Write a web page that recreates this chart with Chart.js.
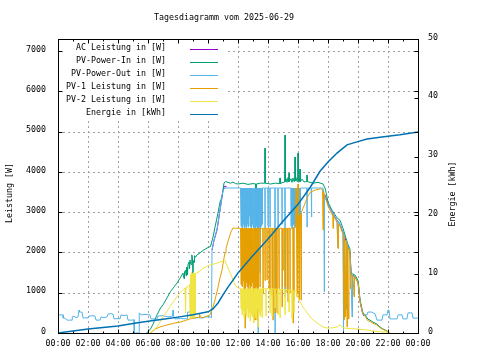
<!DOCTYPE html>
<html><head><meta charset="utf-8">
<script src="https://cdn.jsdelivr.net/npm/chart.js@4.4.1/dist/chart.umd.min.js"></script>
<style>html,body{margin:0;padding:0;background:#fff}canvas{display:block}</style>
</head><body>
<canvas id="c" width="480" height="360"></canvas>
<script>
const TITLE_TEXT = "Tagesdiagramm vom 2025-06-29";
const LEFT_AXIS_TITLE = "Leistung [W]";
const RIGHT_AXIS_TITLE = "Energie [kWh]";
const SERIES_NAMES = ["AC Leistung in [W]","PV-Power-In in [W]","PV-Power-Out in [W]","PV-1 Leistung in [W]","PV-2 Leistung in [W]","Energie in [kWh]"];
const SERIES_COLORS = ["#9400d3","#009e73","#56b4e9","#e69f00","#f0e442","#0072b2"];
const X_TICKS = [0,2,4,6,8,10,12,14,16,18,20,22,24];
const LEFT_TICKS = [0,1000,2000,3000,4000,5000,6000,7000];
const RIGHT_TICKS = [0,10,20,30,40,50];

// AC Leistung: hidden under PV-Power-Out during the plateau (gap = not separately visible)
const acData = [["10:16",2060],["10:24",2300],["10:36",2560],["10:48",3050],["11:00",3550],["11:05",3640],["11:14",3640],["11:16",null],["17:46",null],["17:48",3430],["18:00",3200],["18:16",3000],["18:36",2800],["18:48",2700],["19:00",2500],["19:20",2150],["19:28",2000],["19:32",1450],["19:48",1400],["20:00",1250],["20:08",800],["20:16",550],["20:24",420]];

const pvInData = [["05:55",0],["06:10",100],["06:20",220],["06:36",450],["06:50",620],["07:00",700],["07:16",870],["07:30",1030],["07:45",1150],["07:56",1240],["08:10",1380],["08:20",1490],["08:24",1350],["08:26",1520],["08:30",1560],["08:32",1420],["08:34",1620],["08:36",1640],["08:38",1450],["08:40",1700],["08:44",1760],["08:46",1600],["08:48",1810],["08:52",1700],["08:55",1940],["08:58",1880],["09:00",1070],["09:01",1800],["09:04",1750],["09:06",1920],["09:10",1880],["09:16",1940],["09:28",1990],["09:40",2050],["09:56",2110],["10:10",2150],["10:20",2380],["10:28",2630],["10:40",2980],["10:48",3250],["10:56",3380],["11:04",3725],["11:10",3760],["11:20",3740],["11:30",3720],["11:40",3745],["11:50",3710],["12:00",3700],["12:20",3720],["12:40",3690],["13:00",3710],["13:11",3700],["13:12",2700],["13:13",3700],["13:30",3720],["13:47",3720],["13:48",4590],["13:49",3720],["14:10",3700],["14:30",3720],["14:47",3710],["14:48",3850],["14:49",3710],["15:00",3740],["15:07",3750],["15:08",4916],["15:09",3760],["15:12",3830],["15:16",3740],["15:20",3860],["15:23",3750],["15:24",3970],["15:25",3760],["15:32",3830],["15:36",3740],["15:40",3850],["15:44",3760],["15:47",3780],["15:48",4370],["15:49",3780],["15:52",3860],["15:56",3760],["15:59",3780],["16:00",4470],["16:01",3780],["16:04",3850],["16:07",3760],["16:08",4070],["16:09",3760],["16:16",3820],["16:24",3750],["16:35",3760],["16:36",3920],["16:37",3760],["17:00",3720],["17:20",3740],["17:40",3700],["17:48",3600],["17:52",3500],["18:00",3250],["18:16",3050],["18:36",2860],["18:48",2800],["19:00",2600],["19:12",2350],["19:20",2200],["19:28",2080],["19:32",1500],["19:40",1460],["19:48",1440],["19:56",1350],["20:00",1300],["20:04",1100],["20:08",820],["20:16",600],["20:20",500],["20:28",450],["20:40",340],["20:48",320],["21:00",270],["21:16",220],["21:28",150],["21:40",100],["21:56",50],["22:08",0]];

const pvOutData = [["00:00",450],["00:20",450],["00:21",370],["00:28",370],["00:36",320],["00:56",320],["00:57",400],["01:04",420],["01:12",380],["01:20",400],["01:24",570],["01:26",520],["01:36",520],["01:40",370],["01:52",380],["02:00",370],["02:04",420],["02:20",430],["02:28",420],["02:32",320],["02:48",320],["02:52",400],["03:04",380],["03:16",400],["03:20",470],["03:32",480],["03:40",470],["03:44",350],["04:00",360],["04:08",350],["04:12",450],["04:24",430],["04:36",450],["04:40",320],["05:00",320],["05:04",330],["05:05",0],["05:24",0],["05:25",500],["05:32",450],["05:48",460],["06:08",450],["06:12",350],["06:36",350],["06:40",420],["07:00",430],["07:20",400],["07:38",420],["07:40",570],["07:42",420],["07:48",350],["08:10",360],["08:36",350],["08:38",520],["08:48",520],["08:52",600],["08:56",520],["09:00",370],["09:20",380],["09:40",370],["09:48",400],["10:08",400],["10:14",380],["10:16",2060],["10:24",2300],["10:36",2560],["10:48",3050],["11:00",3550],["11:08",3600],["12:10",3600],
["12:12",2650],["12:14",3600],["12:16",2600],["12:18",3600],["12:20",2700],["12:22",3600],["12:24",2620],["12:26",3600],["12:28",2650],["12:30",3600],["12:32",2600],["12:34",3600],["12:36",2700],["12:38",3600],["12:40",2630],["12:42",3600],["12:44",2900],["12:46",3600],["12:48",2650],["12:50",3600],["12:52",2600],["12:54",3600],["12:56",2700],["12:58",3600],["13:00",2650],["13:02",3600],["13:04",2620],["13:06",3600],["13:08",2100],["13:10",3600],["13:12",2650],["13:14",3600],["13:16",2600],["13:18",3600],["13:20",0],["13:22",3600],["13:24",2650],["13:26",3600],["13:28",1500],["13:30",3600],["13:32",2650],["13:34",3600],["13:36",2700],["13:38",3600],
["13:47",3600],["13:48",2600],["13:49",3600],["13:59",3600],["14:00",2650],["14:01",3600],["14:07",3600],["14:08",2630],["14:09",3600],["14:27",3600],["14:28",0],["14:29",3600],["14:39",3600],["14:40",2630],["14:41",3600],["14:55",3600],["14:56",2700],["14:57",3600],["15:07",3600],["15:08",900],["15:09",3600],["15:31",3600],
["15:32",2650],["15:34",3600],["15:36",2600],["15:38",3600],["15:40",2700],["15:42",3600],["15:44",2650],["15:46",3600],["15:48",2620],["15:50",3600],["15:52",2700],["15:54",3600],["15:56",2650],["15:58",3600],["16:00",2600],["16:02",3600],["16:04",2700],["16:06",3600],["16:08",2650],["16:10",3600],
["16:35",3600],["16:36",2630],["16:37",3600],["16:53",3600],["16:54",2880],["16:55",3600],["17:40",3600],["17:44",3430],["17:45",1020],["17:46",3400],["18:00",3200],["18:16",3000],["18:36",2800],["18:40",2110],["18:41",2780],["18:48",2700],["19:00",2500],["19:02",0],["19:04",2450],["19:12",600],["19:14",2300],["19:20",2150],["19:28",2000],["19:32",1450],["19:36",400],["19:38",1420],["19:48",1400],["19:56",1300],["20:00",1250],["20:04",1050],["20:08",800],["20:16",550],["20:20",450],
["20:36",450],["20:40",520],["20:56",520],["21:00",500],["21:08",480],["21:16",320],["21:36",320],["21:40",450],["21:56",450],["22:00",570],["22:04",570],["22:08",350],["22:36",350],["22:40",450],["22:56",450],["23:00",350],["23:16",350],["23:20",500],["23:36",500],["23:40",370],["24:00",370]];

const pv1Data = [["06:10",0],["06:30",100],["06:48",150],["07:10",190],["07:28",220],["07:50",250],["08:08",270],["08:30",310],["08:48",350],["09:10",380],["09:24",390],["09:26",470],["09:30",400],["09:40",380],["09:56",420],["10:08",450],["10:12",520],["10:20",650],["10:28",820],["10:40",1140],["10:48",1370],["10:56",1560],["11:04",1860],["11:08",1990],["11:12",2100],["11:24",2360],["11:32",2510],["11:40",2610],["11:50",2600],["12:10",2600],
["12:12",1200],["12:14",2600],["12:16",1150],["12:18",2610],["12:20",1300],["12:22",2600],["12:24",1100],["12:26",2600],["12:28",120],["12:30",2600],["12:32",1250],["12:34",2600],["12:36",1150],["12:38",2600],["12:40",1000],["12:42",2600],["12:44",1200],["12:46",2600],["12:48",850],["12:50",2600],["12:52",1150],["12:54",2600],["12:56",1250],["12:58",2600],["13:00",1100],["13:02",2600],["13:04",700],["13:06",2600],["13:08",320],["13:10",2600],["13:12",1150],["13:14",2600],["13:16",320],["13:18",2600],["13:20",1100],["13:22",2600],
["13:27",2600],["13:28",1140],["13:29",2600],["13:39",2600],["13:40",990],["13:41",2600],["13:47",2600],["13:48",1300],["13:49",2600],["13:55",2600],["13:56",1316],["13:57",2600],["14:03",2600],["14:04",1100],["14:05",2600],["14:07",2600],["14:08",990],["14:09",2600],["14:15",2600],["14:16",900],["14:17",2600],["14:19",2600],["14:20",320],["14:21",2600],["14:27",2600],["14:28",500],["14:29",2600],["14:31",2600],["14:32",990],["14:33",2600],["14:35",2600],["14:36",500],["14:37",2600],["14:43",2600],["14:44",1100],["14:45",2600],["14:55",2600],["14:56",650],["14:57",2600],["14:59",2600],["15:00",1560],["15:01",2600],["15:07",2600],["15:08",1140],["15:09",2600],["15:15",2600],["15:16",1000],["15:17",2600],["15:19",2600],["15:20",770],["15:21",2600],["15:27",2600],["15:28",990],["15:29",2600],["15:39",2600],["15:40",250],["15:41",2610],["15:43",2620],["15:44",820],["15:45",2630],["15:50",2650],["15:52",3600],["15:54",2700],["15:56",900],["15:58",2750],["16:00",3700],["16:02",2800],["16:04",820],["16:06",2880],["16:10",2950],["16:12",820],["16:14",3000],["16:20",3100],["16:30",3250],["16:40",3400],["16:50",3500],["17:10",3550],["17:30",3580],["17:38",3560],["17:40",2560],["17:42",3500],["17:48",3400],["18:00",3150],["18:16",2950],["18:19",2900],["18:20",2600],["18:22",2900],["18:36",2750],["18:40",2100],["18:42",2700],["18:48",2650],["19:00",2450],["19:04",330],["19:06",2400],["19:10",400],["19:12",2300],["19:16",150],["19:18",2200],["19:22",350],["19:24",2100],["19:28",2000],["19:30",1100],["19:32",1450],["19:40",1420],["19:44",900],["19:46",1400],["19:56",1300],["20:00",1250],["20:04",1050],["20:08",780],["20:16",560],["20:20",470],["20:28",420],["20:40",300],["20:48",290],["21:00",240],["21:16",200],["21:28",130],["21:40",90],["21:56",40],["22:08",0]];

const pv2Data = [["06:08",0],["06:20",60],["06:36",150],["06:48",270],["07:00",400],["07:15",530],["07:28",650],["07:42",780],["07:56",900],["08:08",990],["08:20",1070],["08:28",1120],["08:30",500],["08:32",1130],["08:40",1150],["08:46",1200],["08:48",370],["08:50",1450],["08:52",400],["08:54",1500],["08:56",380],["08:58",1480],["09:00",420],["09:02",1500],["09:04",370],["09:06",1490],["09:08",450],["09:10",1480],["09:16",1490],["09:28",1540],["09:40",1610],["09:54",1650],["10:08",1690],["10:28",1720],["10:48",1760],["11:08",1810],["11:20",1610],["11:36",1390],["11:48",1190],["12:00",1120],["12:10",1110],
["12:12",600],["12:14",1100],["12:16",450],["12:18",1100],["12:20",550],["12:22",1100],["12:24",350],["12:26",1090],["12:28",500],["12:30",1100],["12:32",420],["12:34",1100],["12:36",600],["12:38",1100],["12:40",380],["12:42",1100],["12:44",520],["12:46",1100],["12:48",300],["12:50",1100],["12:52",480],["12:54",1100],["12:56",400],["12:58",1100],["13:00",550],["13:02",1100],["13:04",250],["13:06",1100],["13:08",470],["13:10",1100],["13:12",380],["13:14",1100],["13:16",600],["13:18",1100],["13:20",150],["13:22",1100],["13:24",500],["13:26",1100],["13:28",420],["13:30",1100],["13:32",560],["13:34",1100],["13:36",380],["13:38",1100],
["13:51",1100],["13:52",420],["13:53",1100],["14:07",1100],["14:08",500],["14:09",1100],["14:15",1100],["14:16",420],["14:17",1100],["14:27",1090],["14:28",620],["14:29",1090],["14:39",1090],["14:40",450],["14:41",1090],["14:47",1080],["14:48",380],["14:49",1080],["15:07",1080],["15:08",450],["15:09",1080],["15:23",1070],["15:24",520],["15:25",1070],["15:35",1060],["15:36",350],["15:37",1060],["15:43",1050],["15:44",500],["15:45",1050],["15:52",1040],["16:00",900],["16:08",770],["16:20",640],["16:30",560],["16:48",400],["17:00",330],["17:16",250],["17:40",150],["18:00",120],["18:20",130],["18:36",150],["18:48",200],["19:00",140],["19:08",120],["19:30",110],["19:56",100],["20:30",80],["21:00",50],["21:30",30],["21:56",20],["22:10",0]];

const energyData = [["00:00",0],["01:00",0.35],["02:00",0.7],["03:00",0.95],["04:00",1.2],["05:00",1.6],["06:00",2.0],["07:00",2.35],["08:00",2.7],["09:00",3.1],["10:00",3.6],["10:20",4.1],["10:40",5.1],["11:00",6.5],["11:20",7.8],["11:40",9.0],["12:00",10.2],["13:00",13.2],["14:00",16.0],["15:00",19.0],["16:00",21.9],["16:48",24.7],["17:28",27.5],["18:00",29.1],["18:36",30.6],["19:16",32.0],["19:56",32.5],["20:36",33.0],["21:28",33.3],["22:08",33.5],["22:48",33.7],["24:00",34.2]];

function toHours(s){const p=s.split(':');return Number(p[0])+Number(p[1])/60;}
function pts(arr){return arr.map(d=>({x:toHours(d[0]),y:d[1]}));}
function pad2(n){return (n<10?'0':'')+n;}
function fixedTicks(list){return function(scale){scale.ticks = list.map(v=>({value:v}));};}

const FONT = "8.3px 'DejaVu Sans Mono'";
const tickFont = {family:"'DejaVu Sans Mono'", size:8.3};

const seriesArrays = [acData,pvInData,pvOutData,pv1Data,pv2Data,energyData];
const datasets = seriesArrays.map((arr,i)=>({
  label: SERIES_NAMES[i],
  data: pts(arr),
  borderColor: SERIES_COLORS[i],
  backgroundColor: SERIES_COLORS[i],
  borderWidth: i===5 ? 1.5 : 1,
  pointRadius: 0, pointHoverRadius: 0,
  fill: false, tension: 0, spanGaps: false,
  yAxisID: i===5 ? 'y2' : 'y',
  order: 5 - i
}));

const decor = {
  id:'decor',
  beforeDraw(chart){
    const ctx=chart.ctx; ctx.save(); ctx.fillStyle='#fff'; ctx.fillRect(0,0,chart.width,chart.height); ctx.restore();
  },
  beforeDatasetsDraw(chart){
    const {ctx, chartArea:a, scales} = chart;
    ctx.save();
    ctx.strokeStyle='#a0a0a0'; ctx.lineWidth=1; ctx.setLineDash([2,3]);
    scales.x.ticks.forEach(t=>{
      if(t.value<=scales.x.min||t.value>=scales.x.max) return;
      const x=Math.round(scales.x.getPixelForValue(t.value))+0.5;
      ctx.beginPath(); ctx.moveTo(x,a.bottom); ctx.lineTo(x,a.top); ctx.stroke();
    });
    scales.y.ticks.forEach(t=>{
      if(t.value<=scales.y.min) return;
      const y=Math.round(scales.y.getPixelForValue(t.value))+0.5;
      ctx.beginPath(); ctx.moveTo(a.left,y); ctx.lineTo(a.right,y); ctx.stroke();
    });
    ctx.setLineDash([]);
    ctx.fillStyle='#fff';
    ctx.fillRect(a.left+1, a.top+1, 166, 79);
    ctx.restore();
  },
  afterDatasetsDraw(chart){
    const {ctx, chartArea:a, scales} = chart;
    ctx.save();
    ctx.strokeStyle='#000'; ctx.lineWidth=1;
    const L=a.left+0.5, R=a.right+0.5, T=a.top+0.5, B=a.bottom+0.5;
    ctx.strokeRect(L,T,R-L,B-T);
    ctx.beginPath();
    for(let h=scales.x.min; h<=scales.x.max; h+=1){
      const x=Math.round(scales.x.getPixelForValue(h))+0.5;
      const len = (h%2===0)?4:2;
      ctx.moveTo(x,B); ctx.lineTo(x,B-len);
      ctx.moveTo(x,T); ctx.lineTo(x,T+len);
    }
    scales.y.ticks.forEach(t=>{
      const y=Math.round(scales.y.getPixelForValue(t.value))+0.5;
      ctx.moveTo(L,y); ctx.lineTo(L+4,y);
      ctx.moveTo(R,y); ctx.lineTo(R-4,y);
    });
    scales.y2.ticks.forEach(t=>{
      const y=Math.round(scales.y2.getPixelForValue(t.value))+0.5;
      ctx.moveTo(R,y); ctx.lineTo(R-4,y);
    });
    ctx.stroke();

    ctx.font=FONT; ctx.fillStyle='#000'; ctx.textBaseline='middle'; ctx.textAlign='right';
    SERIES_NAMES.forEach((name,i)=>{
      const yl = a.top + 10 + 13*i;
      ctx.fillStyle='#000';
      ctx.fillText(name, a.left+108, yl-1.5);
      ctx.strokeStyle=SERIES_COLORS[i];
      ctx.beginPath(); ctx.moveTo(a.left+132, Math.round(yl)+0.5); ctx.lineTo(a.left+160, Math.round(yl)+0.5); ctx.stroke();
    });

    ctx.fillStyle='#000'; ctx.textAlign='center'; ctx.textBaseline='middle';
    ctx.fillText(TITLE_TEXT, 224, 18);
    ctx.save(); ctx.translate(10, 193); ctx.rotate(-Math.PI/2); ctx.fillText(LEFT_AXIS_TITLE,0,0); ctx.restore();
    ctx.save(); ctx.translate(453, 194); ctx.rotate(-Math.PI/2); ctx.fillText(RIGHT_AXIS_TITLE,0,0); ctx.restore();
    ctx.restore();
  }
};

new Chart(document.getElementById('c'), {
  type:'line',
  data:{datasets},
  plugins:[decor],
  options:{
    responsive:false, animation:false, devicePixelRatio:1,
    layout:{padding:{top:39,left:0,right:0,bottom:0}},
    plugins:{legend:{display:false}, tooltip:{enabled:false}, title:{display:false}},
    scales:{
      x:{type:'linear', min:0, max:24, afterBuildTicks:fixedTicks(X_TICKS),
         ticks:{autoSkip:false, maxRotation:0, minRotation:0, color:'#000', font:tickFont, padding:6,
                callback:v=>pad2(Math.round(v)%24)+':00'},
         grid:{display:false, drawTicks:false}, border:{display:false},
         afterFit(s){s.height=27;}},
      y:{position:'left', min:0, max:7300, afterBuildTicks:fixedTicks(LEFT_TICKS),
         ticks:{color:'#000', font:tickFont, padding:12, labelOffset:-1.5, callback:v=>String(v)},
         grid:{display:false, drawTicks:false}, border:{display:false},
         afterFit(s){s.width=58;}},
      y2:{position:'right', min:0, max:50, afterBuildTicks:fixedTicks(RIGHT_TICKS),
         ticks:{color:'#000', font:tickFont, padding:10, labelOffset:-1.5, callback:v=>String(v)},
         grid:{display:false, drawTicks:false}, border:{display:false},
         afterFit(s){s.width=62;}}
    }
  }
});
</script>
</body></html>
